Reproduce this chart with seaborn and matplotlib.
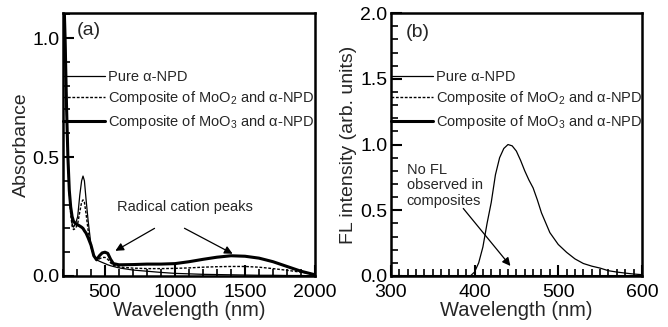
import pandas as pd
import matplotlib.pyplot as plt
import seaborn as sns
from matplotlib.ticker import MultipleLocator

# (a) absorbance spectra
wl_abs = [205, 215, 225, 235, 245, 255, 265, 275, 290, 305,
          320, 333, 343, 353, 365, 380, 400, 420, 440, 460,
          480, 500, 520, 540, 560, 600, 700, 800, 900, 1000,
          1100, 1200, 1300, 1400, 1500, 1600, 1700, 1800, 1900, 2000]
abs_pure = [1.2, 1.05, 0.75, 0.52, 0.37, 0.28, 0.22, 0.205, 0.22, 0.25,
            0.34, 0.40, 0.42, 0.40, 0.32, 0.23, 0.13, 0.085, 0.068, 0.062,
            0.057, 0.052, 0.047, 0.043, 0.04, 0.034, 0.025, 0.02, 0.015, 0.011,
            0.009, 0.007, 0.006, 0.005, 0.004, 0.003, 0.003, 0.002, 0.002, 0.001]
abs_moo2 = [1.15, 0.98, 0.70, 0.49, 0.35, 0.26, 0.21, 0.195, 0.20, 0.22,
            0.27, 0.31, 0.32, 0.31, 0.26, 0.19, 0.12, 0.085, 0.068, 0.072,
            0.078, 0.078, 0.07, 0.055, 0.045, 0.038, 0.033, 0.031, 0.031, 0.032,
            0.034, 0.037, 0.039, 0.040, 0.040, 0.037, 0.031, 0.024, 0.016, 0.008]
abs_moo3 = [1.2, 1.0, 0.72, 0.50, 0.36, 0.29, 0.25, 0.23, 0.22, 0.215,
            0.21, 0.205, 0.20, 0.19, 0.18, 0.16, 0.13, 0.085, 0.068, 0.085,
            0.097, 0.10, 0.095, 0.07, 0.052, 0.047, 0.048, 0.05, 0.05, 0.052,
            0.06, 0.07, 0.079, 0.085, 0.083, 0.075, 0.06, 0.04, 0.02, 0.005]

# (b) fluorescence spectra
wl_fl = [300, 350, 395, 400, 405, 410, 415, 420, 425, 430,
         435, 440, 445, 450, 455, 460, 465, 470, 475, 480,
         490, 500, 510, 520, 530, 540, 550, 560, 570, 580,
         590, 600]
fl_pure = [0, 0, 0, 0.03, 0.1, 0.22, 0.4, 0.56, 0.77, 0.9,
           0.97, 1.0, 0.99, 0.95, 0.88, 0.80, 0.73, 0.67, 0.58, 0.48,
           0.33, 0.24, 0.18, 0.13, 0.095, 0.075, 0.06, 0.04, 0.03, 0.022,
           0.015, 0.01]
wl_comp = [300, 600]
fl_moo2 = [0.0, 0.0]
fl_moo3 = [0.0, 0.0]

labels = ["Pure α-NPD",
          "Composite of MoO$_2$ and α-NPD",
          "Composite of MoO$_3$ and α-NPD"]

sns.set_theme(style="ticks")
plt.rcParams['font.family'] = ['Liberation Sans', 'DejaVu Sans']
plt.rcParams['mathtext.fontset'] = 'custom'
plt.rcParams['mathtext.rm'] = 'Liberation Sans'
plt.rcParams['mathtext.it'] = 'Liberation Sans:italic'

styles = [dict(color='black', lw=0.9, ls='-'),
          dict(color='black', lw=1.0, ls=(0, (2, 1.2))),
          dict(color='black', lw=2.2, ls='-')]

fig = plt.figure(figsize=(6.68, 3.27), dpi=100)
ax1 = fig.add_axes([0.0943, 0.156, 0.3773, 0.804])
ax2 = fig.add_axes([0.585, 0.156, 0.376, 0.804])

df_a = pd.DataFrame({'wl': wl_abs, 'pure': abs_pure, 'moo2': abs_moo2, 'moo3': abs_moo3})
for col, lab, st in zip(['pure', 'moo2', 'moo3'], labels, styles):
    sns.lineplot(data=df_a, x='wl', y=col, ax=ax1, label=lab, **st)

df_b = pd.DataFrame({'wl': wl_fl, 'fl': fl_pure})
df_c = pd.DataFrame({'wl': wl_comp, 'moo2': fl_moo2, 'moo3': fl_moo3})
sns.lineplot(data=df_b, x='wl', y='fl', ax=ax2, label=labels[0], **styles[0])
sns.lineplot(data=df_c, x='wl', y='moo2', ax=ax2, label=labels[1], **styles[1])
sns.lineplot(data=df_c, x='wl', y='moo3', ax=ax2, label=labels[2], **styles[2])

ax1.set_xlim(200, 2000)
ax1.set_ylim(0, 1.105)
ax1.xaxis.set_major_locator(MultipleLocator(500))
ax1.xaxis.set_minor_locator(MultipleLocator(100))
ax1.yaxis.set_major_locator(MultipleLocator(0.5))
ax1.yaxis.set_minor_locator(MultipleLocator(0.1))
ax1.set_xlabel("Wavelength (nm)", fontsize=14.5, labelpad=0)
ax1.set_ylabel("Absorbance", fontsize=14, labelpad=2)

ax2.set_xlim(300, 600)
ax2.set_ylim(0, 2.0)
ax2.xaxis.set_major_locator(MultipleLocator(100))
ax2.xaxis.set_minor_locator(MultipleLocator(10))
ax2.yaxis.set_major_locator(MultipleLocator(0.5))
ax2.yaxis.set_minor_locator(MultipleLocator(0.1))
ax2.set_xlabel("Wavelength (nm)", fontsize=14.5, labelpad=0)
ax2.set_ylabel("FL intensity (arb. units)", fontsize=14, labelpad=2)

for ax in (ax1, ax2):
    for sp in ax.spines.values():
        sp.set_linewidth(1.8)
        sp.set_color('black')
    ax.tick_params(which='major', direction='in', length=8, width=1.5,
                   labelsize=14, colors='black')
    ax.tick_params(axis='x', which='major', pad=5.5)
    ax.tick_params(axis='y', which='major', pad=2.5)
    ax.tick_params(which='minor', direction='in', length=5, width=1.2, colors='black')
    ax.tick_params(top=False, right=False, which='both')
    ax.legend(loc='upper left', bbox_to_anchor=(0, 0.785), frameon=False,
              fontsize=10.5, handlelength=2.9, handletextpad=0.2,
              borderaxespad=0, borderpad=0, labelspacing=0.4)

ax1.text(0.055, 0.935, "(a)", transform=ax1.transAxes, fontsize=14, ha='left', va='center')
ax2.text(0.06, 0.925, "(b)", transform=ax2.transAxes, fontsize=14, ha='left', va='center')

arrow = dict(arrowstyle='-|>', color='black', lw=0.9, mutation_scale=12)
ax1.annotate("Radical cation peaks", xy=(557, 0.10), xytext=(1071, 0.29),
             fontsize=10.5, ha='center', va='center')
ax1.annotate("", xy=(557, 0.10), xytext=(871, 0.206), arrowprops=arrow)
ax1.annotate("", xy=(1429, 0.088), xytext=(1050, 0.206), arrowprops=arrow)

ax2.text(319, 0.69, "No FL\nobserved in\ncomposites", fontsize=10.5,
         ha='left', va='center', linespacing=1.15)
ax2.annotate("", xy=(445, 0.06), xytext=(384.5, 0.53), arrowprops=arrow)

fig.savefig("out.png", dpi=100)
